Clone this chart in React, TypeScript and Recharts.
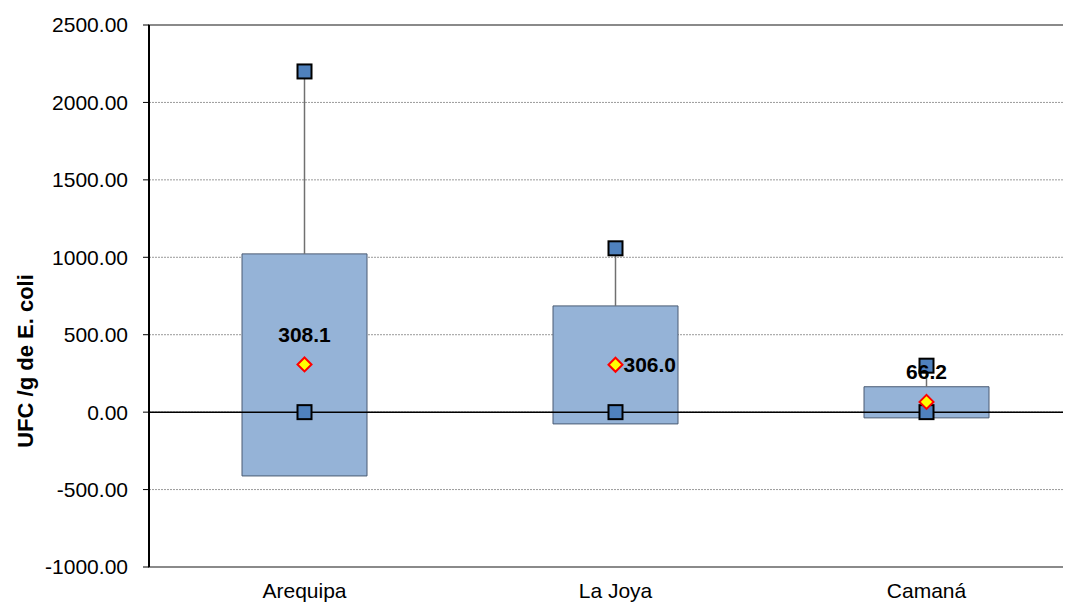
import {
  Bar,
  CartesianGrid,
  ComposedChart,
  ReferenceArea,
  ReferenceLine,
  Scatter,
  XAxis,
  YAxis,
} from "recharts";

const categories = ["Arequipa", "La Joya", "Camaná"];
const boxLow = [-412, -76, -37];
const boxHigh = [1022, 686, 164];
const maxValues = [2200, 1058, 300];
const minValues = [0, 0, 0];
const means = [308.1, 306.0, 66.2];
const yTicks = [-1000, -500, 0, 500, 1000, 1500, 2000, 2500];

const data = categories.map((name, i) => ({
  name,
  low: boxLow[i],
  high: boxHigh[i],
  max: maxValues[i],
  min: minValues[i],
  mean: means[i],
}));

// where the mean label sits relative to the diamond
const labelSide: Record<string, "top" | "right"> = {
  Arequipa: "top",
  "La Joya": "right",
  Camaná: "top",
};

const font = "Arial, 'Liberation Sans', sans-serif";

const Square = (props: any) => {
  const { cx, cy } = props;
  if (cx == null || cy == null) return null;
  return (
    <rect
      x={cx - 7}
      y={cy - 7}
      width={14}
      height={14}
      fill="#4f81bd"
      stroke="#000"
      strokeWidth={2}
    />
  );
};

const MeanMark = (props: any) => {
  const { cx, cy, payload } = props;
  if (cx == null || cy == null) return null;
  const side = labelSide[payload.name];
  const text = Number(payload.mean).toFixed(1);
  return (
    <g>
      <path
        d={`M${cx},${cy - 7} L${cx + 7},${cy} L${cx},${cy + 7} L${cx - 7},${cy} Z`}
        fill="#ffff00"
        stroke="#ff0000"
        strokeWidth={2}
      />
      <text
        x={side === "right" ? cx + 8 : cx}
        y={side === "right" ? cy : cy - 30}
        textAnchor={side === "right" ? "start" : "middle"}
        dominantBaseline="central"
        fontFamily={font}
        fontWeight="bold"
        fontSize={21}
        fill="#000"
      >
        {text}
      </text>
    </g>
  );
};

const Whisker = (props: any) => {
  const { x, y, width, height } = props;
  const cx = x + width / 2;
  return (
    <line x1={cx} x2={cx} y1={y} y2={y + height} stroke="#707070" strokeWidth={1.5} />
  );
};

const YTitle = (props: any) => {
  const { viewBox } = props;
  const cx = viewBox.x + 17;
  const cy = viewBox.y + viewBox.height / 2 + 65;
  return (
    <text
      x={cx}
      y={cy}
      transform={`rotate(-90, ${cx}, ${cy})`}
      textAnchor="middle"
      dominantBaseline="central"
      fontFamily={font}
      fontWeight="bold"
      fontSize={22}
      fill="#000"
    >
      UFC /g de E. coli
    </text>
  );
};

export default function App() {
  return (
    <div style={{ width: 1063, height: 596, overflow: "hidden" }}>
      <ComposedChart
        width={1100}
        height={596}
        data={data}
        margin={{ top: 17, right: 26, bottom: 0, left: 0 }}
      >
        <CartesianGrid
          vertical={false}
          stroke="#9a9a9a"
          strokeDasharray="2 1"
        />
        <ReferenceArea
          y1={-1000}
          y2={2500}
          fill="none"
          stroke="#8a8a8a"
          strokeWidth={2}
        />
        <XAxis
          dataKey="name"
          axisLine={false}
          tickLine={false}
          height={37}
          tickMargin={10}
          tick={{ fontSize: 21, fill: "#000", fontFamily: font }}
        />
        <XAxis xAxisId="w" dataKey="name" hide />
        <XAxis xAxisId="num" type="number" domain={[0, 3]} hide />
        <YAxis
          width={141}
          domain={[-1000, 2500]}
          ticks={yTicks}
          interval={0}
          tickFormatter={(v: number) => v.toFixed(2)}
          axisLine={{ stroke: "#000", strokeWidth: 2 }}
          tickLine={{ stroke: "#000" }}
          tickSize={6}
          tickMargin={15}
          tick={{ fontSize: 21, fill: "#000", fontFamily: font }}
          label={{ content: YTitle }}
        />
        <ReferenceLine y={0} stroke="#000" strokeWidth={1.5} />
        <ReferenceLine
          xAxisId="num"
          segment={[
            { x: 1, y: -42 },
            { x: 1, y: 42 },
          ]}
          stroke="#a0a0a0"
          strokeWidth={2}
        />
        <ReferenceLine
          xAxisId="num"
          segment={[
            { x: 2, y: -42 },
            { x: 2, y: 42 },
          ]}
          stroke="#a0a0a0"
          strokeWidth={2}
        />
        <Bar
          dataKey={(d: any) => [d.low, d.high]}
          barSize={125}
          fill="#95b3d7"
          stroke="#4a5b73"
          strokeWidth={1}
          isAnimationActive={false}
        />
        <Bar
          xAxisId="w"
          dataKey={(d: any) => [d.high, d.max]}
          barSize={125}
          shape={Whisker}
          isAnimationActive={false}
        />
        <Scatter dataKey="max" shape={Square} isAnimationActive={false} />
        <Scatter dataKey="min" shape={Square} isAnimationActive={false} />
        <Scatter dataKey="mean" shape={MeanMark} isAnimationActive={false} />
      </ComposedChart>
    </div>
  );
}
